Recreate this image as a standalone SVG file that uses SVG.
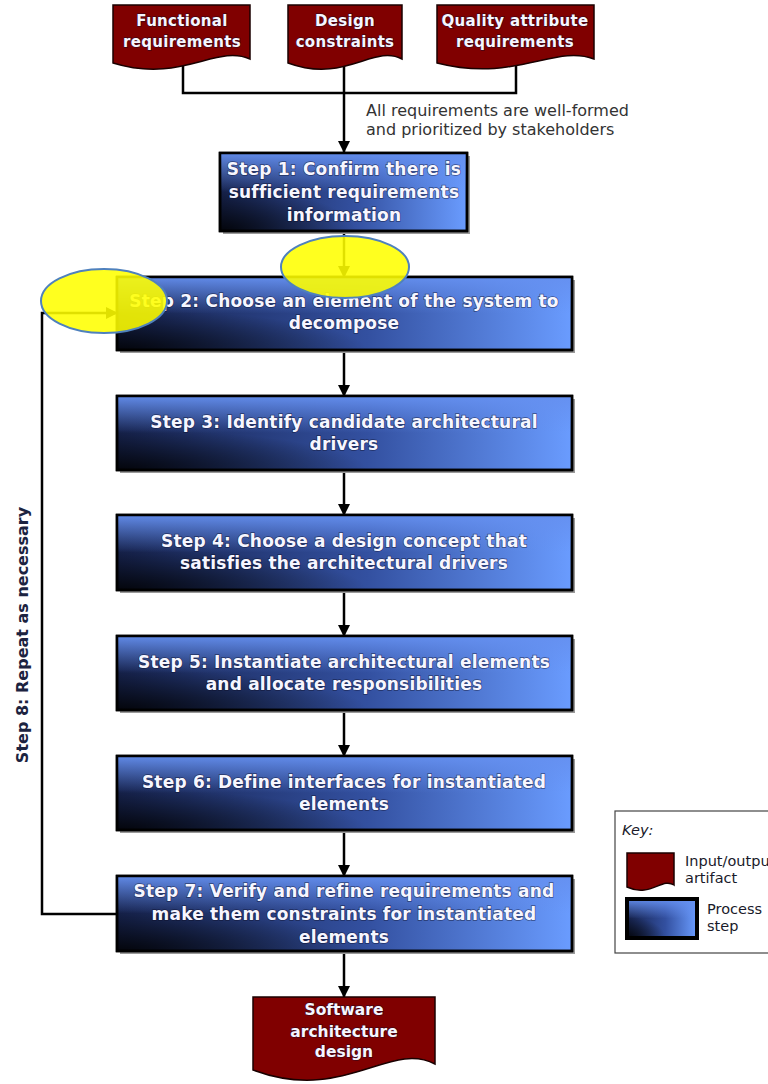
<svg xmlns="http://www.w3.org/2000/svg" width="768" height="1084" viewBox="0 0 768 1084">
<style>
.doc{fill:#800000;stroke:#1a0000;stroke-width:1.5}
.box{stroke:#000;stroke-width:2.5}
.shadow{fill:#9a9a9a}
.t{font-family:"DejaVu Sans",Verdana,sans-serif;font-weight:bold;fill:#f6f6ff;text-anchor:middle;paint-order:stroke;stroke:#0c0c28;stroke-width:1.4;stroke-opacity:0.55}
.st{font-size:17px;letter-spacing:0.2px}
.dt{font-size:15px;letter-spacing:0.3px}
.lbl{font-family:"DejaVu Sans",Verdana,sans-serif;font-size:16px;fill:#333}
.key{font-family:"DejaVu Sans",Verdana,sans-serif;font-size:14.5px;fill:#1a1a2a}
.ln{fill:none;stroke:#000;stroke-width:2.5}
.ell{fill:#ffff00;fill-opacity:0.88;stroke:#4f81bd;stroke-width:2}
</style>
<defs>
<marker id="ah" markerUnits="userSpaceOnUse" markerWidth="12" markerHeight="12" refX="11" refY="6" orient="auto">
<path d="M0,0 L12,6 L0,12 Z" fill="#000"/>
</marker>
<linearGradient id="gH" x1="0" y1="0" x2="1" y2="0">
<stop offset="0" stop-color="#16224c"/>
<stop offset="0.55" stop-color="#3350a0"/>
<stop offset="1" stop-color="#6a9cff"/>
</linearGradient>
<linearGradient id="gV" x1="0" y1="0" x2="0" y2="1">
<stop offset="0" stop-color="#6590f0" stop-opacity="0.95"/>
<stop offset="0.5" stop-color="#6590f0" stop-opacity="0"/>
</linearGradient>
<radialGradient id="gD" cx="0" cy="1" r="0.55">
<stop offset="0" stop-color="#000" stop-opacity="0.85"/>
<stop offset="1" stop-color="#000" stop-opacity="0"/>
</radialGradient>
</defs>
<rect width="768" height="1084" fill="#fff"/>

<g id="connectors">
<path class="ln" d="M183,50 V93 H516 V50"/>
<path class="ln" d="M344,50 V152" marker-end="url(#ah)"/>
<path class="ln" d="M344,231 V277" marker-end="url(#ah)"/>
<path class="ln" d="M344,350 V396" marker-end="url(#ah)"/>
<path class="ln" d="M344,470 V515" marker-end="url(#ah)"/>
<path class="ln" d="M344,590 V636" marker-end="url(#ah)"/>
<path class="ln" d="M344,710 V756" marker-end="url(#ah)"/>
<path class="ln" d="M344,830 V876" marker-end="url(#ah)"/>
<path class="ln" d="M344,951 V997" marker-end="url(#ah)"/>
<path class="ln" d="M117,914 H42 V313 H117" marker-end="url(#ah)"/>
<text class="lbl" x="366" y="116">All requirements are well-formed</text>
<text class="lbl" x="366" y="135">and prioritized by stakeholders</text>
<text transform="translate(28,635) rotate(-90)" text-anchor="middle" font-family="DejaVu Sans,Verdana,sans-serif" font-weight="bold" font-size="16px" fill="#1c2340">Step 8: Repeat as necessary</text>
</g>

<g id="doc-functional">
<path class="doc" d="M113,5 H250 V59 C215.75,44 181.5,84 113,63 Z"/>
<text class="t dt" x="182" y="26">Functional</text>
<text class="t dt" x="182" y="47">requirements</text>
</g>
<g id="doc-design">
<path class="doc" d="M288,5 H402 V59 C373.5,44 345,84 288,63 Z"/>
<text class="t dt" x="345" y="26">Design</text>
<text class="t dt" x="345" y="47">constraints</text>
</g>
<g id="doc-quality">
<path class="doc" d="M437,5 H594 V59 C554.75,44 515.5,83 437,63 Z"/>
<text class="t dt" x="515" y="26">Quality attribute</text>
<text class="t dt" x="515" y="47">requirements</text>
</g>

<g id="step1">
<rect class="shadow" x="223" y="156" width="247" height="78"/>
<rect class="box" x="220" y="153" width="247" height="78" fill="url(#gH)"/>
<rect x="220" y="153" width="247" height="78" fill="url(#gV)"/>
<rect x="220" y="153" width="247" height="78" fill="url(#gD)"/>
<rect x="220" y="153" width="247" height="78" fill="none" stroke="#000" stroke-width="2.5"/>
<text class="t st" x="344" y="175">Step 1: Confirm there is</text>
<text class="t st" x="344" y="198">sufficient requirements</text>
<text class="t st" x="344" y="221">information</text>
</g>

<g id="step2">
<rect class="shadow" x="120" y="280" width="455" height="73"/>
<rect class="box" x="117" y="277" width="455" height="73" fill="url(#gH)"/>
<rect x="117" y="277" width="455" height="73" fill="url(#gV)"/>
<rect x="117" y="277" width="455" height="73" fill="url(#gD)"/>
<rect x="117" y="277" width="455" height="73" fill="none" stroke="#000" stroke-width="2.5"/>
<text class="t st" x="344" y="307">Step 2: Choose an element of the system to</text>
<text class="t st" x="344" y="329">decompose</text>
</g>

<g id="step3">
<rect class="shadow" x="120" y="399" width="455" height="74"/>
<rect class="box" x="117" y="396" width="455" height="74" fill="url(#gH)"/>
<rect x="117" y="396" width="455" height="74" fill="url(#gV)"/>
<rect x="117" y="396" width="455" height="74" fill="url(#gD)"/>
<rect x="117" y="396" width="455" height="74" fill="none" stroke="#000" stroke-width="2.5"/>
<text class="t st" x="344" y="428">Step 3: Identify candidate architectural</text>
<text class="t st" x="344" y="450">drivers</text>
</g>

<g id="step4">
<rect class="shadow" x="120" y="518" width="455" height="75"/>
<rect class="box" x="117" y="515" width="455" height="75" fill="url(#gH)"/>
<rect x="117" y="515" width="455" height="75" fill="url(#gV)"/>
<rect x="117" y="515" width="455" height="75" fill="url(#gD)"/>
<rect x="117" y="515" width="455" height="75" fill="none" stroke="#000" stroke-width="2.5"/>
<text class="t st" x="344" y="547">Step 4: Choose a design concept that</text>
<text class="t st" x="344" y="569">satisfies the architectural drivers</text>
</g>

<g id="step5">
<rect class="shadow" x="120" y="639" width="455" height="74"/>
<rect class="box" x="117" y="636" width="455" height="74" fill="url(#gH)"/>
<rect x="117" y="636" width="455" height="74" fill="url(#gV)"/>
<rect x="117" y="636" width="455" height="74" fill="url(#gD)"/>
<rect x="117" y="636" width="455" height="74" fill="none" stroke="#000" stroke-width="2.5"/>
<text class="t st" x="344" y="668">Step 5: Instantiate architectural elements</text>
<text class="t st" x="344" y="690">and allocate responsibilities</text>
</g>

<g id="step6">
<rect class="shadow" x="120" y="759" width="455" height="74"/>
<rect class="box" x="117" y="756" width="455" height="74" fill="url(#gH)"/>
<rect x="117" y="756" width="455" height="74" fill="url(#gV)"/>
<rect x="117" y="756" width="455" height="74" fill="url(#gD)"/>
<rect x="117" y="756" width="455" height="74" fill="none" stroke="#000" stroke-width="2.5"/>
<text class="t st" x="344" y="788">Step 6: Define interfaces for instantiated</text>
<text class="t st" x="344" y="810">elements</text>
</g>

<g id="step7">
<rect class="shadow" x="120" y="879" width="455" height="75"/>
<rect class="box" x="117" y="876" width="455" height="75" fill="url(#gH)"/>
<rect x="117" y="876" width="455" height="75" fill="url(#gV)"/>
<rect x="117" y="876" width="455" height="75" fill="url(#gD)"/>
<rect x="117" y="876" width="455" height="75" fill="none" stroke="#000" stroke-width="2.5"/>
<text class="t st" x="344" y="897">Step 7: Verify and refine requirements and</text>
<text class="t st" x="344" y="920">make them constraints for instantiated</text>
<text class="t st" x="344" y="943">elements</text>
</g>

<g id="doc-output">
<path class="doc" d="M253,997 H435 V1064 C389.5,1040 344,1104 253,1070 Z"/>
<text class="t" font-size="15.5px" x="344" y="1015">Software</text>
<text class="t" font-size="15.5px" x="344" y="1037">architecture</text>
<text class="t" font-size="15.5px" x="344" y="1057">design</text>
</g>

<g id="key">
<rect x="615" y="811" width="160" height="142" fill="#fff" stroke="#444" stroke-width="1.2"/>
<text class="key" x="622" y="835" font-style="italic" font-size="16px" fill="#1a1a40">Key:</text>
<path class="doc" d="M627,853 H674 V885 C662,877 650.5,898 627,887 Z"/>
<text class="key" x="685" y="866">Input/output</text>
<text class="key" x="685" y="883">artifact</text>
<rect x="627" y="899" width="70" height="39" fill="url(#gH)"/>
<rect x="627" y="899" width="70" height="39" fill="url(#gV)"/>
<rect x="627" y="899" width="70" height="39" fill="url(#gD)"/>
<rect x="627" y="899" width="70" height="39" fill="none" stroke="#000" stroke-width="4"/>
<text class="key" x="707" y="914">Process</text>
<text class="key" x="707" y="931">step</text>
</g>

<g id="highlights">
<ellipse class="ell" cx="104" cy="301" rx="63" ry="32"/>
<ellipse class="ell" cx="345" cy="267" rx="64" ry="31"/>
</g>
</svg>
